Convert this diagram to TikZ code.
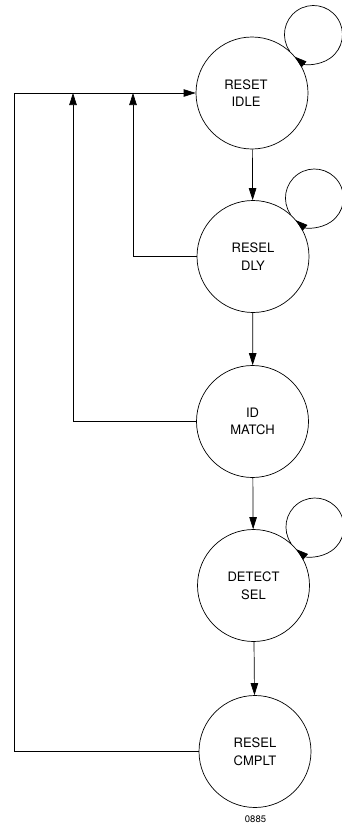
\documentclass[tikz,border=0pt]{standalone}
\usepackage{fontspec}
\setmainfont{TeX Gyre Heros}
\usetikzlibrary{arrows.meta,calc}
\begin{document}
\begin{tikzpicture}[x=1pt,y=1pt,
  line width=0.7pt,
  state/.style={draw, circle, minimum size=112pt, inner sep=0pt,
    align=center, font=\fontsize{13}{17.7}\selectfont},
  arr/.style={-{Triangle[length=12pt,width=7.5pt]}},
  selfloop/.style={arr}]
\useasboundingbox (0,0) rectangle (342,-825);
% states
\node[state] (s1) at (252,-93) {};
\node[font=\fontsize{13}{17.7}\selectfont, align=center, inner sep=0pt] (t1) at (246,-93) {RESET\\IDLE};
\node[state] (s2) at (253,-256.5) {RESEL\\DLY};
\node[state] (s3) at (252.5,-421.5) {ID\\MATCH};
\node[state] (s4) at (253.5,-585.5) {DETECT\\SEL};
\node[state] (s5) at (255,-751.5) {RESEL\\CMPLT};
% junction points on the return line
\coordinate (c0) at (14,-93);
\coordinate (b3) at (73,-93);
\coordinate (b2) at (133,-93);
% forward transitions
\draw[arr] (s1) -- (s2);
\draw[arr] (s2) -- (s3);
\draw[arr] (s3) -- (s4);
\draw[arr] (s4) -- (s5);
% self loops
\draw[selfloop] (s1.48) arc[start angle=215, end angle=-130, radius=29pt];
\draw[selfloop] (s2.48) arc[start angle=215, end angle=-130, radius=29pt];
\draw[selfloop] (s4.48) arc[start angle=215, end angle=-130, radius=29pt];
% return paths
\draw[arr] (s5.west) -| (c0) -- (s1.west);
\draw[arr] (s2.west) -| (b2);
\draw[arr] (s3.west) -| (b3);
% figure number
\node[font=\fontsize{9.5}{11}\selectfont, inner sep=0pt] (fig) at (255.5,-819.5) {0885};
\end{tikzpicture}
\end{document}
